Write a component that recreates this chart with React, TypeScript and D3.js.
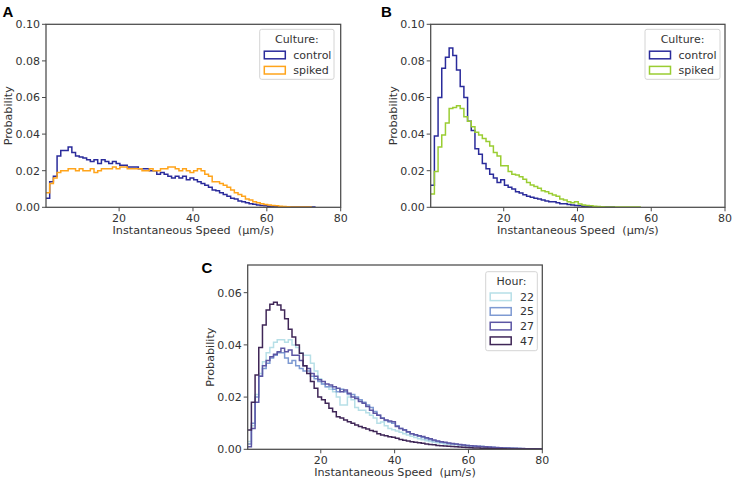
import React from "react";
import * as d3 from "d3";

// ---------- data ----------
const BIN_START = 0.2; // µm/s, first bin edge
const BIN_WIDTH = 1; // µm/s

const xTicks = [20, 40, 60, 80];
const yTicksAB = [0, 0.02, 0.04, 0.06, 0.08, 0.1];
const yTicksC = [0, 0.02, 0.04, 0.06];

const cultureLabels = ["control", "spiked"];
const hourLabels = ["22", "25", "27", "47"];

const controlA = [
  0.005, 0.014, 0.017, 0.028, 0.031, 0.031, 0.033, 0.030, 0.028, 0.0275,
  0.027, 0.026, 0.025, 0.026, 0.024, 0.026, 0.025, 0.024, 0.025, 0.024,
  0.023, 0.023, 0.022, 0.022, 0.022, 0.021, 0.021, 0.021, 0.020, 0.020,
  0.018, 0.019, 0.018, 0.017, 0.016, 0.017, 0.016, 0.017, 0.015, 0.016,
  0.015, 0.014, 0.013, 0.012, 0.011, 0.0095, 0.009, 0.008, 0.007, 0.006,
  0.005, 0.0045, 0.0035, 0.003, 0.0025, 0.002, 0.0017, 0.0013, 0.001, 0.0008,
  0.0006, 0.0004, 0.0003, 0.0002, 0.0002, 0.0001, 0.0001, 0.0001, 0.0001, 0.0001,
  0.0001, 0.0001, 0.0001,
];
const spikedA = [
  0.008, 0.013, 0.016, 0.019, 0.020, 0.020, 0.021, 0.021, 0.020, 0.021,
  0.020, 0.020, 0.021, 0.019, 0.020, 0.021, 0.021, 0.021, 0.022, 0.021,
  0.022, 0.022, 0.021, 0.021, 0.021, 0.021, 0.020, 0.020, 0.021, 0.020,
  0.020, 0.021, 0.021, 0.022, 0.022, 0.021, 0.020, 0.021, 0.020, 0.019,
  0.020, 0.021, 0.020, 0.018, 0.017, 0.014, 0.014, 0.013, 0.012, 0.011,
  0.0095, 0.008, 0.007, 0.006, 0.0045, 0.004, 0.003, 0.0025, 0.002, 0.0015,
  0.0012, 0.001, 0.0008, 0.0006, 0.0005, 0.0003, 0.0002, 0.0002, 0.0001, 0.0001,
  0.0001, 0.0001,
];

const controlB = [
  0.012, 0.039, 0.060, 0.076, 0.082, 0.087, 0.083, 0.075, 0.066, 0.060,
  0.047, 0.042, 0.032, 0.029, 0.024, 0.021, 0.018, 0.016, 0.0135, 0.015,
  0.012, 0.011, 0.010, 0.0085, 0.0078, 0.0068, 0.006, 0.0055, 0.005, 0.0045,
  0.004, 0.0035, 0.003, 0.003, 0.0025, 0.002, 0.002, 0.0015, 0.0012, 0.001,
  0.0008, 0.0006, 0.0004, 0.0003, 0.0002, 0.0001, 0.0001, 0.0001, 0.0001, 0.0001,
];
const spikedB = [
  0.0073, 0.0195, 0.033, 0.0395, 0.046, 0.054, 0.0545, 0.0555, 0.054, 0.0495,
  0.047, 0.044, 0.041, 0.0395, 0.0376, 0.036, 0.0335, 0.030, 0.028, 0.0227,
  0.0227, 0.0195, 0.018, 0.0176, 0.0167, 0.0153, 0.0135, 0.0122, 0.0113, 0.0104,
  0.009, 0.0085, 0.0076, 0.0067, 0.006, 0.0045, 0.004, 0.003, 0.0025, 0.003,
  0.0018, 0.0013, 0.001, 0.0008, 0.0006, 0.0004, 0.0003, 0.0002, 0.0002, 0.0002,
  0.0001, 0.0001, 0.0001, 0.0001, 0.0001, 0.0001, 0.0001,
];

const hour22 = [
  0.003, 0.009, 0.021, 0.029, 0.0335, 0.037, 0.039, 0.041, 0.042, 0.042,
  0.041, 0.042, 0.040, 0.039, 0.037, 0.036, 0.036, 0.033, 0.030, 0.027,
  0.025, 0.024, 0.023, 0.022, 0.020, 0.017, 0.017, 0.020, 0.019, 0.016,
  0.015, 0.015, 0.014, 0.013, 0.012, 0.010, 0.0105, 0.009, 0.008, 0.0075,
  0.007, 0.0065, 0.006, 0.0055, 0.005, 0.0045, 0.004, 0.0037, 0.0033, 0.003,
  0.0027, 0.0025, 0.0023, 0.002, 0.0019, 0.0018, 0.0017, 0.0016, 0.0015, 0.0013,
  0.0012, 0.0011, 0.001, 0.0012, 0.0009, 0.0008, 0.0007, 0.0006, 0.0005, 0.0005,
  0.0004, 0.0004, 0.0003, 0.0003, 0.0002, 0.0002, 0.0002, 0.0001, 0.0001, 0.0001,
];
const hour25 = [
  0.002, 0.010, 0.020, 0.028, 0.031, 0.033, 0.035, 0.036, 0.037, 0.037,
  0.035, 0.033, 0.034, 0.032, 0.031, 0.030, 0.030, 0.028, 0.027, 0.026,
  0.025, 0.024, 0.024, 0.023, 0.022, 0.023, 0.022, 0.021, 0.021, 0.020,
  0.019, 0.018, 0.017, 0.016, 0.0145, 0.013, 0.012, 0.011, 0.0105, 0.010,
  0.009, 0.008, 0.0075, 0.0065, 0.006, 0.0055, 0.005, 0.0045, 0.004, 0.0037,
  0.0033, 0.003, 0.0027, 0.0025, 0.0022, 0.002, 0.0019, 0.0017, 0.0016, 0.0015,
  0.0014, 0.0012, 0.0011, 0.001, 0.0009, 0.0008, 0.0007, 0.0006, 0.0005, 0.0005,
  0.0004, 0.0004, 0.0003, 0.0003, 0.0002, 0.0002, 0.0002, 0.0001, 0.0001, 0.0001,
];
const hour27 = [
  0.001, 0.008, 0.018, 0.028, 0.032, 0.034, 0.0355, 0.0364, 0.0374, 0.0387,
  0.0374, 0.038, 0.036, 0.036, 0.034, 0.032, 0.031, 0.029, 0.028, 0.0266,
  0.026, 0.025, 0.0246, 0.024, 0.0234, 0.022, 0.0227, 0.0215, 0.020, 0.0195,
  0.0183, 0.0176, 0.0164, 0.015, 0.0138, 0.013, 0.0119, 0.0112, 0.0108, 0.0106,
  0.0087, 0.008, 0.0074, 0.0067, 0.006, 0.0056, 0.0052, 0.0049, 0.0044, 0.004,
  0.0036, 0.0032, 0.0029, 0.0027, 0.0024, 0.0022, 0.002, 0.0018, 0.0016, 0.0015,
  0.0014, 0.0013, 0.0012, 0.0011, 0.001, 0.0009, 0.0008, 0.0007, 0.0006, 0.0005,
  0.0005, 0.0004, 0.0004, 0.0003, 0.0003, 0.0002, 0.0002, 0.0002, 0.0001, 0.0001,
];
const hour47 = [
  0.0074, 0.018, 0.0285, 0.039, 0.0476, 0.0534, 0.0556, 0.0563, 0.0553, 0.0534,
  0.050, 0.046, 0.043, 0.040, 0.0368, 0.032, 0.029, 0.026, 0.0234, 0.020,
  0.019, 0.0176, 0.0157, 0.0144, 0.0125, 0.012, 0.0112, 0.0106, 0.010, 0.0093,
  0.0087, 0.0083, 0.0078, 0.0072, 0.0068, 0.006, 0.0055, 0.0052, 0.0048, 0.0046,
  0.0042, 0.0038, 0.0035, 0.0032, 0.0029, 0.0027, 0.0025, 0.0023, 0.002, 0.0018,
  0.0017, 0.0015, 0.0014, 0.0013, 0.0012, 0.0011, 0.001, 0.0009, 0.0008, 0.0007,
  0.0006, 0.0005, 0.0005, 0.0004, 0.0004, 0.0003, 0.0002, 0.0002, 0.0002, 0.0002,
  0.0001, 0.0001, 0.0001, 0.0001, 0.0001, 0.0001, 0.0001, 0.0001, 0.0001, 0.0001,
];

// ---------- styling ----------
const FONT = "'DejaVu Sans', sans-serif";
const AXIS_COLOR = "#4a4a4a";
const TEXT_COLOR = "#333333";

type Series = { label: string; values: number[]; color: string };

type PanelProps = {
  id: string;
  letter: string;
  letterPos: [number, number];
  box: { x0: number; x1: number; y0: number; y1: number };
  yMax: number;
  yTicks: number[];
  series: Series[];
  legendTitle: string;
  legend: { x0: number; x1: number; y0: number; y1: number; titleY: number; firstRow: number; rowGap: number; patchX: number; textX: number };
};

function Panel(p: PanelProps) {
  const { box } = p;
  const x = d3.scaleLinear().domain([BIN_START, 80]).range([box.x0, box.x1]);
  const y = d3.scaleLinear().domain([0, p.yMax]).range([box.y1, box.y0]);
  const line = d3
    .line<[number, number]>()
    .x((d) => x(d[0]))
    .y((d) => y(d[1]))
    .curve(d3.curveStepAfter);
  const fmt = d3.format(".2f");
  const clipId = `clip-${p.id}`;
  const L = p.legend;
  return (
    <g>
      <defs>
        <clipPath id={clipId}>
          <rect x={box.x0} y={box.y0} width={box.x1 - box.x0} height={box.y1 - box.y0} />
        </clipPath>
      </defs>
      <text x={p.letterPos[0]} y={p.letterPos[1]} fontFamily="'Liberation Sans', Arial, sans-serif" fontWeight="bold" fontSize={15} fill="#000">
        {p.letter}
      </text>
      <g clipPath={`url(#${clipId})`}>
        {p.series.map((s) => {
          const pts: [number, number][] = s.values.map((v, i) => [BIN_START + i * BIN_WIDTH, v]);
          pts.push([BIN_START + s.values.length * BIN_WIDTH, s.values[s.values.length - 1]]);
          return (
            <path key={s.label} d={line(pts) || ""} fill="none" stroke={s.color} strokeWidth={1.5} strokeLinejoin="miter" />
          );
        })}
      </g>
      <rect x={box.x0} y={box.y0} width={box.x1 - box.x0} height={box.y1 - box.y0} fill="none" stroke={AXIS_COLOR} strokeWidth={1.25} />
      {xTicks.map((t) => (
        <g key={"x" + t}>
          <line x1={x(t)} x2={x(t)} y1={box.y1} y2={box.y1 + 4} stroke={AXIS_COLOR} strokeWidth={1} />
          <text x={x(t)} y={box.y1 + 14.6} textAnchor="middle" fontFamily={FONT} fontSize={11} fill={TEXT_COLOR}>
            {t}
          </text>
        </g>
      ))}
      {p.yTicks.map((t) => (
        <g key={"y" + t}>
          <line x1={box.x0 - 4} x2={box.x0} y1={y(t)} y2={y(t)} stroke={AXIS_COLOR} strokeWidth={1} />
          <text x={box.x0 - 6} y={y(t)} dy="0.36em" textAnchor="end" fontFamily={FONT} fontSize={11} fill={TEXT_COLOR}>
            {fmt(t)}
          </text>
        </g>
      ))}
      <text x={(box.x0 + box.x1) / 2} y={box.y1 + 27} textAnchor="middle" fontFamily={FONT} fontSize={11.2} fill={TEXT_COLOR}>
        {"Instantaneous Speed\u00a0 (\u00b5m/s)"}
      </text>
      <text
        transform={`translate(${box.x0 - 34},${(box.y0 + box.y1) / 2}) rotate(-90)`}
        textAnchor="middle"
        fontFamily={FONT}
        fontSize={11.2}
        fill={TEXT_COLOR}
      >
        Probability
      </text>
      <rect x={L.x0} y={L.y0} width={L.x1 - L.x0} height={L.y1 - L.y0} rx={2} fill="#fff" fillOpacity={0.85} stroke="#d4d4d4" strokeWidth={1} />
      <text x={(L.x0 + L.x1) / 2} y={L.titleY} textAnchor="middle" fontFamily={FONT} fontSize={11} fill={TEXT_COLOR}>
        {p.legendTitle}
      </text>
      {p.series.map((s, i) => {
        const cy = L.firstRow + i * L.rowGap;
        return (
          <g key={"lg" + s.label}>
            <rect x={L.patchX} y={cy - 3.8} width={21} height={7.6} fill="none" stroke={s.color} strokeWidth={1.5} />
            <text x={L.textX} y={cy} dy="0.36em" fontFamily={FONT} fontSize={11} fill={TEXT_COLOR}>
              {s.label}
            </text>
          </g>
        );
      })}
    </g>
  );
}

export default function App() {
  const blue = "#2a2b9b";
  return (
    <svg width={733} height={481} style={{ position: "absolute", left: 0, top: 0, background: "#fff" }}>
      <Panel
        id="a"
        letter="A"
        letterPos={[2.5, 16.8]}
        box={{ x0: 46, x1: 340.7, y0: 24.3, y1: 207.3 }}
        yMax={0.1}
        yTicks={yTicksAB}
        series={[
          { label: cultureLabels[0], values: controlA, color: blue },
          { label: cultureLabels[1], values: spikedA, color: "#ffa41b" },
        ]}
        legendTitle="Culture:"
        legend={{ x0: 259.7, x1: 334, y0: 29.3, y1: 79.3, titleY: 43, firstRow: 55, rowGap: 15.2, patchX: 264.3, textX: 293.3 }}
      />
      <Panel
        id="b"
        letter="B"
        letterPos={[381, 16.8]}
        box={{ x0: 430.7, x1: 725, y0: 24.3, y1: 207.3 }}
        yMax={0.1}
        yTicks={yTicksAB}
        series={[
          { label: cultureLabels[0], values: controlB, color: blue },
          { label: cultureLabels[1], values: spikedB, color: "#9acd32" },
        ]}
        legendTitle="Culture:"
        legend={{ x0: 645, x1: 720, y0: 29.3, y1: 79.3, titleY: 43, firstRow: 55, rowGap: 15.2, patchX: 649.5, textX: 678.5 }}
      />
      <Panel
        id="c"
        letter="C"
        letterPos={[201.5, 272.7]}
        box={{ x0: 247.7, x1: 542.3, y0: 265, y1: 449.3 }}
        yMax={0.0706}
        yTicks={yTicksC}
        series={[
          { label: hourLabels[0], values: hour22, color: "#b7dfe7" },
          { label: hourLabels[1], values: hour25, color: "#7e9ad2" },
          { label: hourLabels[2], values: hour27, color: "#5c56a4" },
          { label: hourLabels[3], values: hour47, color: "#3f2657" },
        ]}
        legendTitle="Hour:"
        legend={{ x0: 485.7, x1: 537.3, y0: 271.7, y1: 350.7, titleY: 285.3, firstRow: 296.8, rowGap: 14.65, patchX: 490.2, textX: 520 }}
      />
    </svg>
  );
}
